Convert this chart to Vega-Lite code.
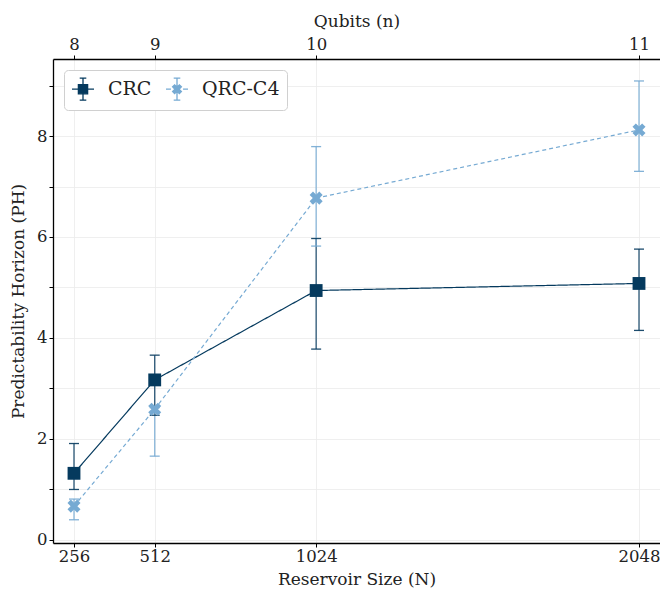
{
  "$schema": "https://vega.github.io/schema/vega-lite/v6.json",
  "autosize": "none",
  "width": 607,
  "height": 484,
  "padding": {"left": 53, "top": 59, "right": 0, "bottom": 50},
  "background": "white",
  "config": {
    "font": "DejaVu Serif",
    "view": {"stroke": null},
    "axis": {
      "labelFont": "DejaVu Serif",
      "titleFont": "DejaVu Serif",
      "labelFontSize": 16.5,
      "titleFontSize": 17,
      "labelColor": "#222222",
      "titleColor": "#222222",
      "titleFontWeight": "normal",
      "domainColor": "#000000",
      "domainWidth": 1.3,
      "tickColor": "#000000",
      "tickSize": 4,
      "gridColor": "#ebebeb",
      "gridWidth": 0.8
    },
    "legend": {
      "labelFont": "DejaVu Serif",
      "orient": "top-left",
      "offset": 11,
      "direction": "horizontal",
      "fillColor": "white",
      "strokeColor": "#d0d0d0",
      "cornerRadius": 4,
      "padding": 7,
      "labelFontSize": 19,
      "labelColor": "#222222",
      "labelOffset": 13,
      "columnPadding": 11,
      "symbolSize": 484,
      "symbolStrokeWidth": 1.3,
      "symbolOpacity": 1
    }
  },
  "data": {
    "values": [
      {"series": "CRC", "N": 256, "ph": 1.32, "lo": 1.0, "hi": 1.91},
      {"series": "CRC", "N": 512, "ph": 3.17, "lo": 2.47, "hi": 3.66},
      {"series": "CRC", "N": 1024, "ph": 4.94, "lo": 3.78, "hi": 5.97},
      {"series": "CRC", "N": 2048, "ph": 5.08, "lo": 4.15, "hi": 5.76},
      {"series": "QRC-C4", "N": 256, "ph": 0.67, "lo": 0.4, "hi": 0.81},
      {"series": "QRC-C4", "N": 512, "ph": 2.59, "lo": 1.66, "hi": 2.62},
      {"series": "QRC-C4", "N": 1024, "ph": 6.77, "lo": 5.82, "hi": 7.79},
      {"series": "QRC-C4", "N": 2048, "ph": 8.12, "lo": 7.3, "hi": 9.09}
    ]
  },
  "layer": [
    {
      "mark": {"type": "line", "strokeWidth": 1.2},
      "encoding": {
        "x": {
          "field": "N", "type": "quantitative",
          "scale": {"domain": [189.4, 2114.6], "nice": false, "zero": false},
          "axis": {
            "orient": "bottom",
            "values": [256, 512, 1024, 2048],
            "format": "d",
            "title": "Reservoir Size (N)",
            "grid": true,
            "labelPadding": 1,
            "titlePadding": 7
          }
        },
        "y": {
          "field": "ph", "type": "quantitative",
          "scale": {"domain": [-0.06, 9.525], "nice": false, "zero": false},
          "axis": {
            "values": [0, 1, 2, 3, 4, 5, 6, 7, 8, 9],
            "labelExpr": "datum.value % 2 == 0 ? datum.label : ''",
            "title": "Predictability Horizon (PH)",
            "grid": true,
            "labelPadding": 2,
            "titlePadding": 9
          }
        },
        "color": {
          "field": "series", "type": "nominal",
          "scale": {"range": ["#053a5e", "#76aad3"]},
          "legend": null
        },
        "strokeDash": {
          "field": "series", "type": "nominal",
          "scale": {"range": [[1, 0], [4, 3]]},
          "legend": null
        }
      }
    },
    {
      "mark": {"type": "rule", "strokeWidth": 1.3, "opacity": 0.85},
      "encoding": {
        "x": {"field": "N", "type": "quantitative", "axis": null},
        "y": {"field": "lo", "type": "quantitative"},
        "y2": {"field": "hi"},
        "color": {"field": "series", "type": "nominal", "legend": null}
      }
    },
    {
      "mark": {"type": "tick", "orient": "horizontal", "size": 10, "thickness": 1.3, "opacity": 0.9},
      "encoding": {
        "x": {"field": "N", "type": "quantitative", "axis": null},
        "y": {"field": "lo", "type": "quantitative"},
        "color": {"field": "series", "type": "nominal", "legend": null}
      }
    },
    {
      "mark": {"type": "tick", "orient": "horizontal", "size": 10, "thickness": 1.3, "opacity": 0.9},
      "encoding": {
        "x": {"field": "N", "type": "quantitative", "axis": null},
        "y": {"field": "hi", "type": "quantitative"},
        "color": {"field": "series", "type": "nominal", "legend": null}
      }
    },
    {
      "transform": [{"filter": "datum.series == 'CRC'"}],
      "mark": {"type": "point", "shape": "square", "filled": true, "size": 165, "opacity": 1},
      "encoding": {
        "x": {"field": "N", "type": "quantitative", "axis": null},
        "y": {"field": "ph", "type": "quantitative"},
        "color": {"field": "series", "type": "nominal", "legend": null}
      }
    },
    {
      "transform": [{"filter": "datum.series == 'QRC-C4'"}],
      "mark": {"type": "point", "shape": "M1,-0.482L0.518,0L1,0.482L0.482,1L0,0.518L-0.482,1L-1,0.482L-0.518,0L-1,-0.482L-0.482,-1L0,-0.518L0.482,-1Z", "filled": true, "size": 170, "opacity": 1},
      "encoding": {
        "x": {
          "field": "N", "type": "quantitative",
          "axis": {
            "orient": "top",
            "values": [256, 512, 1024, 2048],
            "labelExpr": "datum.value == 256 ? '8' : datum.value == 512 ? '9' : datum.value == 1024 ? '10' : '11'",
            "title": "Qubits (n)",
            "grid": false,
            "labelPadding": 3,
            "titlePadding": 6
          }
        },
        "y": {"field": "ph", "type": "quantitative"},
        "color": {"field": "series", "type": "nominal", "legend": null}
      }
    },
    {
      "transform": [{"filter": "datum.N < 0"}],
      "mark": {"type": "point", "filled": true, "opacity": 1},
      "encoding": {
        "fill": {
          "field": "series", "type": "nominal",
          "scale": {"domain": ["CRC", "QRC-C4"], "range": ["#053a5e", "#76aad3"]},
          "title": null
        },
        "stroke": {
          "field": "series", "type": "nominal",
          "scale": {"domain": ["CRC", "QRC-C4"], "range": ["#053a5e", "#76aad3"]},
          "title": null
        },
        "shape": {
          "field": "series", "type": "nominal",
          "scale": {"domain": ["CRC", "QRC-C4"], "range": [
            "M-1,0H1M0,-1V1M-0.3,-1H0.3M-0.3,1H0.3M-0.42,-0.42H0.42V0.42H-0.42Z",
            "M-1,0H-0.55M0.55,0H1M0,-1V1M-0.3,-1H0.3M-0.3,1H0.3M0.4,-0.216L0.184,0L0.4,0.216L0.216,0.4L0,0.184L-0.216,0.4L-0.4,0.216L-0.184,0L-0.4,-0.216L-0.216,-0.4L0,-0.184L0.216,-0.4Z"
          ]},
          "title": null
        }
      }
    }
  ],
  "resolve": {"axis": {"x": "independent"}}
}
